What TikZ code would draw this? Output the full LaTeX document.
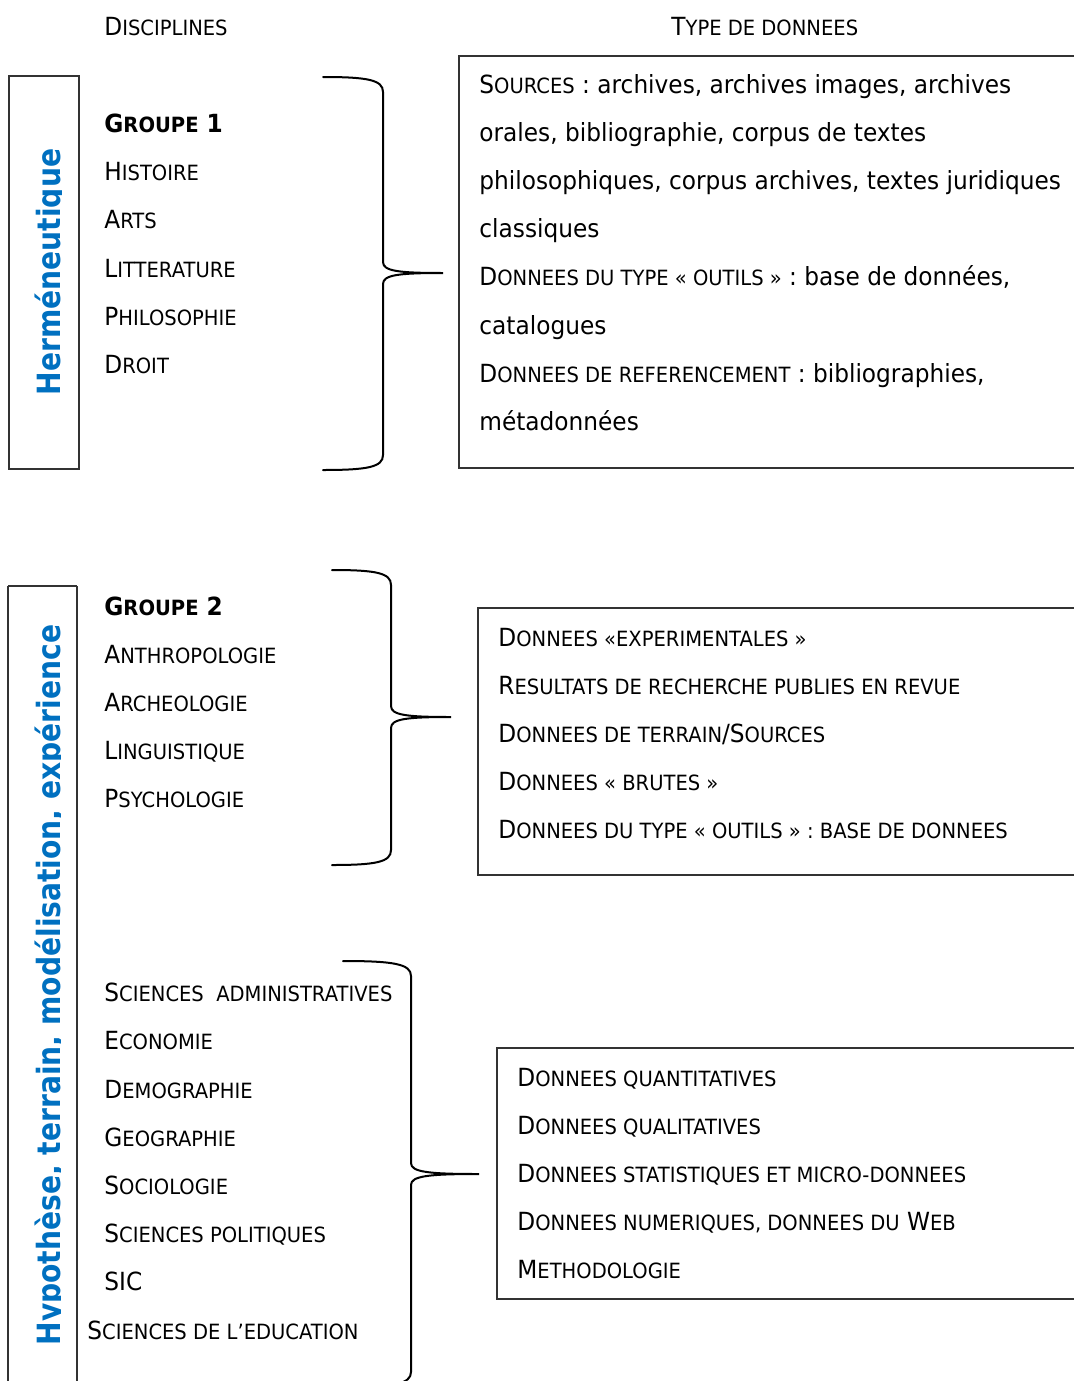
\documentclass[tikz,border=0pt]{standalone}
\usepackage{fontspec}
\setmainfont{DejaVu Sans}[FakeStretch=0.93]
\newfontfamily\vertfont{DejaVu Sans}[FakeStretch=0.88]
\usepackage{tikz}
\usetikzlibrary{positioning}
\definecolor{bleu}{HTML}{0070C0}
\newcommand{\pc}[1]{{\fontsize{10.5pt}{12pt}\selectfont #1}}
% right brace: x start, x stem, x tip, y top, y tip, y bottom
\newcommand{\accolade}[6]{%
\draw[brace] (#1,#4) .. controls ({#1+0.75*(#2-#1)},#4) and (#2,#4+3) .. (#2,#4+15)
 -- (#2,#5-11) .. controls (#2,#5-2) and ({#2+0.25*(#3-#2)},#5) .. (#3,#5)
 .. controls ({#2+0.25*(#3-#2)},#5) and (#2,#5+2) .. (#2,#5+11)
 -- (#2,#6-15) .. controls (#2,#6-3) and ({#1+0.75*(#2-#1)},#6) .. (#1,#6);}

\begin{document}
\begin{tikzpicture}[x=0.5pt,y=-0.5pt,
  txt/.style={anchor=base west,inner sep=0pt,font=\fontsize{12.5pt}{15pt}\selectfont},
  vert/.style={anchor=base,rotate=90,inner sep=0pt,text=bleu,font=\vertfont\fontsize{16pt}{18pt}\selectfont\bfseries},
  cadre/.style={draw=black!80,line width=0.7pt},
  brace/.style={line width=1pt,line cap=round}]

\useasboundingbox (0,0) rectangle (1073,1381);

\node[txt] (disc) at (104,35) {D\pc{ISCIPLINES}};
\node[txt] (type) at (671,35) {T\pc{YPE DE DONNEES}};

% groupe 1
\draw[cadre] (9,76) rectangle (79,469);
\begin{scope}
\clip (0,0) rectangle (61.5,1381);
\node[vert] (herm) at (61,272) {Herméneutique};
\end{scope}

\node[txt,font=\fontsize{12.5pt}{15pt}\selectfont\bfseries] (g1) at (104,132.5) {G\pc{ROUPE} 1};
\node[txt] (hist) at (104,180.5) {H\pc{ISTOIRE}};
\node[txt] (arts) at (104,228.7) {A\pc{RTS}};
\node[txt] (litt) at (104,277) {L\pc{ITTERATURE}};
\node[txt] (philo) at (104,325.2) {P\pc{HILOSOPHIE}};
\node[txt] (droit) at (104,373.4) {D\pc{ROIT}};

\accolade{323}{383}{443}{77}{273}{470}

\draw[cadre] (459,56) rectangle (1090,468);
\node[txt] (s1) at (479,93) {S\pc{OURCES} : archives, archives images, archives};
\node[txt] (s2) at (479,141.2) {orales, bibliographie, corpus de textes};
\node[txt] (s3) at (479,189.4) {philosophiques, corpus archives, textes juridiques};
\node[txt] (s4) at (479,237.6) {classiques};
\node[txt] (s5) at (479,285.8) {D\pc{ONNEES DU TYPE « OUTILS »} : base de données,};
\node[txt] (s6) at (479,334) {catalogues};
\node[txt] (s7) at (479,382.2) {D\pc{ONNEES DE REFERENCEMENT} : bibliographies,};
\node[txt] (s8) at (479,430.4) {métadonnées};

% groupe 2
\draw[cadre] (8,586) -- (8,1395) (77,586) -- (77,1395) (8,586) -- (77,586);
\begin{scope}
\clip (0,0) rectangle (60.5,1381);
\node[vert] (hypo) at (60,985) {Hypothèse, terrain, modélisation, expérience};
\end{scope}

\node[txt,font=\fontsize{12.5pt}{15pt}\selectfont\bfseries] (g2) at (104,615) {G\pc{ROUPE} 2};
\node[txt] (anth) at (104,663.2) {A\pc{NTHROPOLOGIE}};
\node[txt] (arch) at (104,711.4) {A\pc{RCHEOLOGIE}};
\node[txt] (ling) at (104,759.6) {L\pc{INGUISTIQUE}};
\node[txt] (psy) at (104,807.8) {P\pc{SYCHOLOGIE}};

\accolade{332}{391}{451}{570}{717}{865}

\draw[cadre] (478,608) rectangle (1090,875);
\node[txt] (e1) at (498,646) {D\pc{ONNEES «EXPERIMENTALES »}};
\node[txt] (e2) at (498,694.2) {R\pc{ESULTATS DE RECHERCHE PUBLIES EN REVUE}};
\node[txt] (e3) at (498,742.4) {D\pc{ONNEES DE TERRAIN}/S\pc{OURCES}};
\node[txt] (e4) at (498,790.6) {D\pc{ONNEES « BRUTES »}};
\node[txt] (e5) at (498,838.8) {D\pc{ONNEES DU TYPE « OUTILS » : BASE DE DONNEES}};

% groupe 3
\node[txt] (adm) at (104,1001.7) {S\pc{CIENCES\ \ ADMINISTRATIVES}};
\node[txt] (eco) at (104,1049.9) {E\pc{CONOMIE}};
\node[txt] (demo) at (104,1098.1) {D\pc{EMOGRAPHIE}};
\node[txt] (geo) at (104,1146.3) {G\pc{EOGRAPHIE}};
\node[txt] (socio) at (104,1194.5) {S\pc{OCIOLOGIE}};
\node[txt] (pol) at (104,1242.7) {S\pc{CIENCES POLITIQUES}};
\node[txt] (sic) at (104,1290.9) {SIC};
\node[txt] (educ) at (87,1339.1) {S\pc{CIENCES DE L’EDUCATION}};

\accolade{343}{411}{479}{961}{1174}{1387}

\draw[cadre] (497,1048) rectangle (1090,1299);
\node[txt] (q1) at (517,1086) {D\pc{ONNEES QUANTITATIVES}};
\node[txt] (q2) at (517,1134.2) {D\pc{ONNEES QUALITATIVES}};
\node[txt] (q3) at (517,1182.4) {D\pc{ONNEES STATISTIQUES ET MICRO-DONNEES}};
\node[txt] (q4) at (517,1230.6) {D\pc{ONNEES NUMERIQUES, DONNEES DU} W\pc{EB}};
\node[txt] (q5) at (517,1278.8) {M\pc{ETHODOLOGIE}};

\end{tikzpicture}
\end{document}
